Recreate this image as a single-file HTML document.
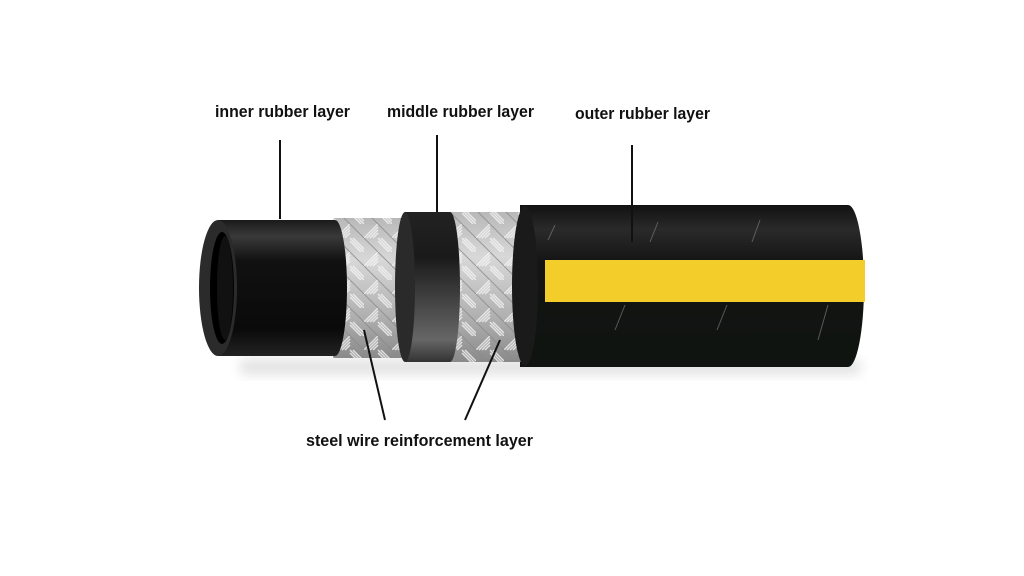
<!DOCTYPE html>
<html><head><style>
html,body{margin:0;padding:0;background:#fff;}
svg{display:block}
text{font-family:"Liberation Sans",sans-serif;font-weight:bold;font-size:17px;fill:#111;}
</style></head><body>
<svg width="1024" height="576" viewBox="0 0 1024 576" xmlns="http://www.w3.org/2000/svg">
<defs>
<linearGradient id="blk" x1="0" y1="0" x2="0" y2="1">
<stop offset="0" stop-color="#1a1a1a"/><stop offset="0.12" stop-color="#3a3a3a"/><stop offset="0.3" stop-color="#111"/><stop offset="0.8" stop-color="#0a0a0a"/><stop offset="1" stop-color="#222"/>
</linearGradient>
<linearGradient id="ring" x1="0" y1="0" x2="0" y2="1">
<stop offset="0" stop-color="#222"/><stop offset="0.3" stop-color="#1a1a1a"/><stop offset="0.6" stop-color="#444"/><stop offset="0.85" stop-color="#666"/><stop offset="1" stop-color="#333"/>
</linearGradient>
<linearGradient id="outer" x1="0" y1="0" x2="0" y2="1">
<stop offset="0" stop-color="#111"/><stop offset="0.15" stop-color="#2a2a2a"/><stop offset="0.35" stop-color="#141414"/><stop offset="1" stop-color="#0f1410"/>
</linearGradient>
<linearGradient id="steel" x1="0" y1="0" x2="0" y2="1">
<stop offset="0" stop-color="#b8b8b8"/><stop offset="0.3" stop-color="#d8d8d8"/><stop offset="0.7" stop-color="#b0b0b0"/><stop offset="1" stop-color="#8a8a8a"/>
</linearGradient>
<pattern id="braid" width="28" height="28" patternUnits="userSpaceOnUse">
<g stroke="#f4f4f4" stroke-width="1.5">
<line x1="0" y1="14" x2="14" y2="0"/><line x1="3" y1="14" x2="14" y2="3"/><line x1="6" y1="14" x2="14" y2="6"/><line x1="9" y1="14" x2="14" y2="9"/>
<line x1="14" y1="14" x2="28" y2="28"/><line x1="17" y1="14" x2="28" y2="25"/><line x1="14" y1="17" x2="25" y2="28"/>
</g>
<g stroke="#8a8a8a" stroke-width="1">
<line x1="14" y1="0" x2="28" y2="14"/><line x1="0" y1="14" x2="14" y2="28"/>
</g>
</pattern>
<filter id="sh" x="-10%" y="-50%" width="130%" height="200%"><feGaussianBlur stdDeviation="6"/></filter>
</defs>
<rect x="240" y="360" width="620" height="14" fill="#000" opacity="0.12" filter="url(#sh)"/>
<!-- outer -->
<path d="M520 205 H848 A16 81 0 0 1 848 367 H520 Z" fill="url(#outer)"/>
<rect x="545" y="260" width="320" height="42" fill="#f3cd2a"/>
<g stroke="#777" stroke-width="1" opacity="0.7">
<line x1="658" y1="222" x2="650" y2="242"/><line x1="760" y1="220" x2="752" y2="242"/><line x1="555" y1="225" x2="548" y2="240"/>
<line x1="625" y1="305" x2="615" y2="330"/><line x1="727" y1="305" x2="717" y2="330"/><line x1="828" y1="305" x2="818" y2="340"/>
</g>
<!-- braid 2 -->
<path d="M445 212 H520 A12 75 0 0 1 520 362 H445 Z" fill="url(#steel)"/>
<path d="M445 212 H520 A12 75 0 0 1 520 362 H445 Z" fill="url(#braid)" opacity="0.8"/>
<ellipse cx="525" cy="286" rx="13" ry="80" fill="#1a1a1a"/>
<!-- middle ring -->
<path d="M405 212 H450 A10 75 0 0 1 450 362 H405 Z" fill="url(#ring)"/>
<!-- braid 1 -->
<path d="M333 218 H402 A10 70 0 0 1 402 358 H333 Z" fill="url(#steel)"/>
<path d="M333 218 H402 A10 70 0 0 1 402 358 H333 Z" fill="url(#braid)" opacity="0.8"/>
<ellipse cx="405" cy="287" rx="10" ry="75" fill="#2a2a2a"/>
<!-- inner tube -->
<path d="M218 220 H335 A12 68 0 0 1 335 356 H218 Z" fill="url(#blk)"/>
<ellipse cx="218" cy="288" rx="19" ry="68" fill="#2b2b2b"/>
<ellipse cx="222" cy="288" rx="12" ry="56" fill="#000"/>
<ellipse cx="225" cy="288" rx="8" ry="52" fill="#111"/>
<g stroke="#111" stroke-width="2" fill="none">
<line x1="280" y1="140" x2="280" y2="219"/>
<line x1="437" y1="135" x2="437" y2="212"/>
<line x1="632" y1="145" x2="632" y2="242"/>
<line x1="364" y1="330" x2="385" y2="420"/>
<line x1="500" y1="340" x2="465" y2="420"/>
</g>
<text x="215" y="117" textLength="135" lengthAdjust="spacingAndGlyphs">inner rubber layer</text>
<text x="387" y="117" textLength="147" lengthAdjust="spacingAndGlyphs">middle rubber layer</text>
<text x="575" y="119" textLength="135" lengthAdjust="spacingAndGlyphs">outer rubber layer</text>
<text x="306" y="446" textLength="227" lengthAdjust="spacingAndGlyphs">steel wire reinforcement layer</text>
</svg>
</body></html>
